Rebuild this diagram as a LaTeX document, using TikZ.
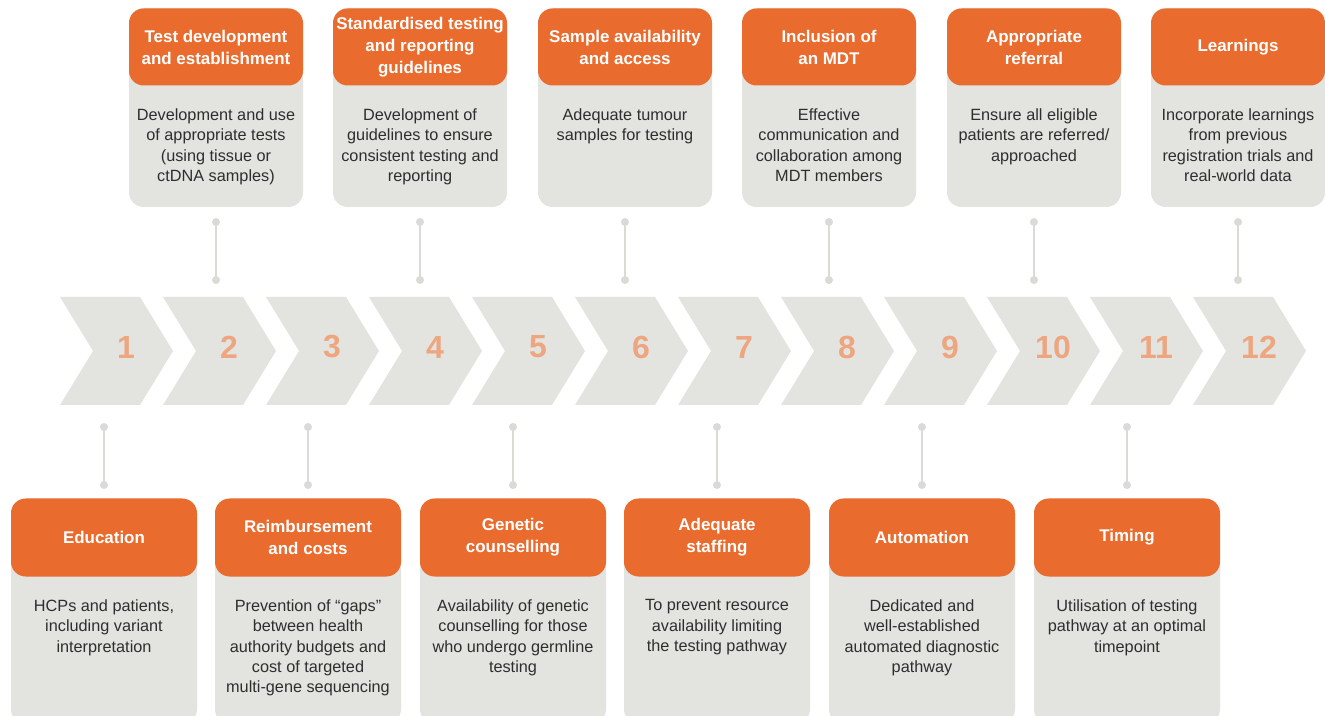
\documentclass[tikz,border=0pt]{standalone}
\usepackage{fontspec}
\setmainfont{Liberation Sans}

\definecolor{accent}{HTML}{E96B2E}
\definecolor{panel}{HTML}{E3E3DF}
\definecolor{numtone}{HTML}{EDA680}
\definecolor{stem}{HTML}{DADAD7}
\definecolor{bodyink}{HTML}{2E2E2E}

\begin{document}
\begin{tikzpicture}[x=0.75pt,y=-0.75pt,
  card/.style={fill=panel,rounded corners=11pt},
  head/.style={fill=accent,rounded corners=11pt,text=white,align=center,inner sep=0pt,
    font=\fontsize{12.7}{16.5}\selectfont\bfseries},
  body/.style={text=bodyink,align=center,anchor=north,inner sep=0pt,
    font=\fontsize{12.2}{15.2}\selectfont},
  num/.style={text=numtone,font=\fontsize{24}{24}\selectfont\bfseries},
  link/.style={draw=stem,line width=1.5pt},
  dot/.style={fill=stem}]

\useasboundingbox (0,0) rectangle (1325,716);

% the arrow band
\foreach \i in {1,...,12} {
  \pgfmathsetmacro\l{60+(\i-1)*103}
  \fill[panel] (\l,297) -- ++(80,0) -- ++(33,54) -- ++(-33,54) -- ++(-80,0) -- ++(33,-54) -- cycle;
  \node[num] (n\i) at (\l+66,347) {\i};
}

% cards above the band (even steps)
\foreach \cx/\nm/\title/\txt in {
  216/testdev/{Test development\\and establishment}/{Development and use\\of appropriate tests\\(using tissue or\\ctDNA samples)},
  420/guide/{Standardised testing\\and reporting\\guidelines}/{Development of\\guidelines to ensure\\consistent testing and\\reporting},
  625/sample/{Sample availability\\and access}/{Adequate tumour\\samples for testing},
  829/mdt/{Inclusion of\\an MDT}/{Effective\\communication and\\collaboration among\\MDT members},
  1034/referral/{Appropriate\\referral}/{Ensure all eligible\\patients are referred/\\approached},
  1238/learn/{Learnings}/{Incorporate learnings\\from previous\\registration trials and\\real-world data}} {
  \fill[card] (\cx-87,8) rectangle (\cx+87,207);
  \node[head,minimum width=130.5pt,minimum height=57.75pt] (\nm) at (\cx,47) {\title};
  \node[body] (\nm-txt) at (\cx,108.5) {\txt};
  \coordinate (\nm-a) at (\cx,222);
  \coordinate (\nm-b) at (\cx,280);
  \draw[link] (\nm-a) -- (\nm-b);
  \fill[dot] (\nm-a) circle (3pt) (\nm-b) circle (3pt);
}

% cards below the band (odd steps)
\foreach \cx/\nm/\title/\txt in {
  104/educ/{Education}/{HCPs and patients,\\including variant\\interpretation},
  308/costs/{Reimbursement\\and costs}/{Prevention of “gaps”\\between health\\authority budgets and\\cost of targeted\\multi-gene sequencing},
  513/genetic/{Genetic\\counselling}/{Availability of genetic\\counselling for those\\who undergo germline\\testing},
  717/staff/{Adequate\\staffing}/{To prevent resource\\availability limiting\\the testing pathway},
  922/auto/{Automation}/{Dedicated and\\well-established\\automated diagnostic\\pathway},
  1127/timing/{Timing}/{Utilisation of testing\\pathway at an optimal\\timepoint}} {
  \fill[card] (\cx-93,499) rectangle (\cx+93,724);
  \node[head,minimum width=139.5pt,minimum height=58.5pt] (\nm) at (\cx,537.5) {\title};
  \node[body] (\nm-txt) at (\cx,599.5) {\txt};
  \coordinate (\nm-a) at (\cx,427);
  \coordinate (\nm-b) at (\cx,485);
  \draw[link] (\nm-a) -- (\nm-b);
  \fill[dot] (\nm-a) circle (3pt) (\nm-b) circle (3pt);
}

\end{tikzpicture}
\end{document}
